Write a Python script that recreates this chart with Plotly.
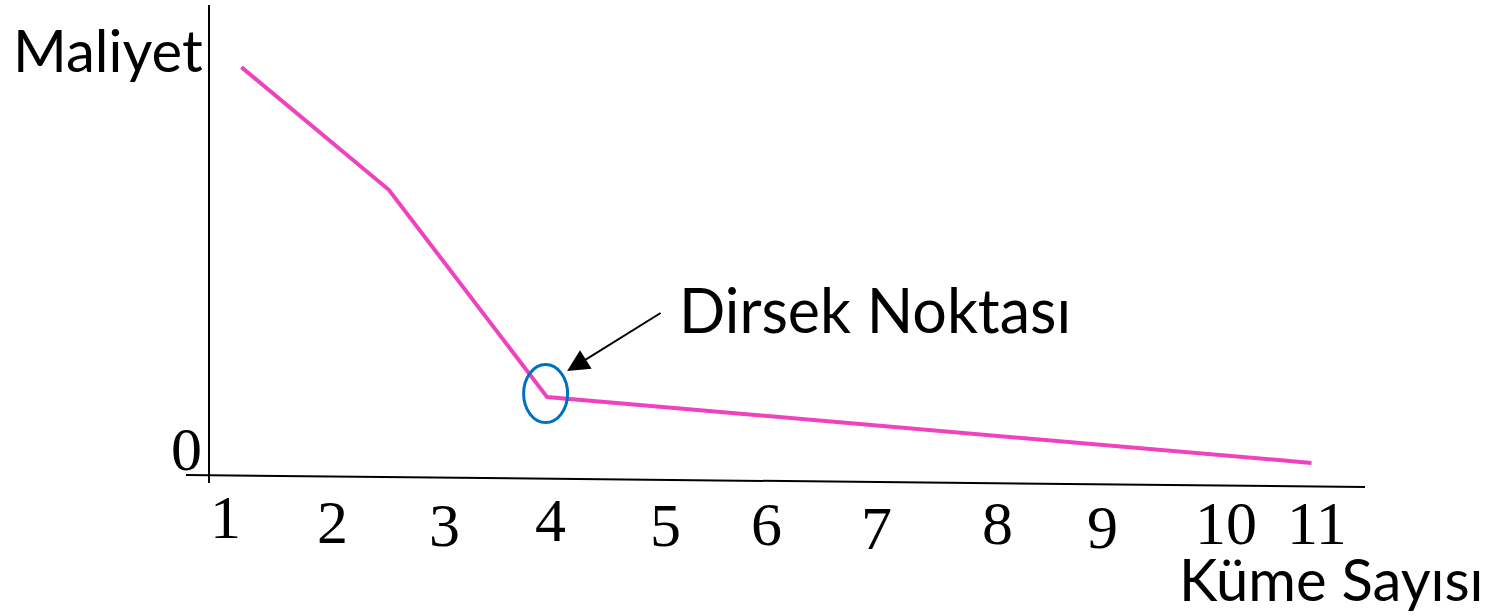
import plotly.graph_objects as go

# elbow chart data: cost vs number of clusters
cluster_labels = ["1", "2", "3", "4", "5", "6", "7", "8", "9", "10", "11"]
cluster_ticks = [1, 2, 3, 4, 5, 6, 7, 8, 9, 10, 11]
curve_k = [1.15, 2.5, 3.95, 10.95]
curve_cost = [100, 70, 19.3, 3.2]
elbow_index = 2

# hand-drawn look: small per-label nudges (px)
label_dx = [0, -2, 1, -2, 4, -4, -4, 8, 4, 18, 0]
label_dy = [41, 46, 49, 44, 49, 48, 52, 47, 51, 47, 47]

W, H = 1485, 616
L, R, T, B = 209, 120, 5, 140
PW, PH = W - L - R, H - T - B


def px(x, y):
    """pixel position -> paper coords"""
    return (x - L) / PW, (H - B - y) / PH


serif = "Liberation Serif"
sans = "Lato"

fig = go.Figure(go.Scatter(
    x=curve_k,
    y=curve_cost,
    mode="lines",
    line=dict(color="#EF42BE", width=4),
    hoverinfo="x+y",
))

ax_x0, ax_y0 = px(186, 475)
ax_x1, ax_y1 = px(1365, 487)
yl_x, yl_y0 = px(209, 483)
_, yl_y1 = px(209, 5)

shapes = [
    dict(type="line", xref="paper", yref="paper", x0=ax_x0, y0=ax_y0, x1=ax_x1, y1=ax_y1,
         line=dict(color="black", width=2)),
    dict(type="line", xref="paper", yref="paper", x0=yl_x, y0=yl_y0, x1=yl_x, y1=yl_y1,
         line=dict(color="black", width=2)),
    # ring around the elbow
    dict(type="circle", xref="x", yref="y", xsizemode="pixel", ysizemode="pixel",
         xanchor=curve_k[elbow_index], yanchor=curve_cost[elbow_index],
         x0=-23.5, x1=20.5, y0=-25.5, y1=32.5,
         line=dict(color="#0070C0", width=3)),
]

annotations = []
for lab, k, dx, dy in zip(cluster_labels, cluster_ticks, label_dx, label_dy):
    annotations.append(dict(
        x=k, y=0, xref="x", yref="y", text=lab, showarrow=False,
        xshift=dx, yshift=-dy, xanchor="center", yanchor="middle",
        height=52, valign="middle",
        font=dict(family=serif, size=62, color="black"),
    ))

zx, zy = px(186, 449)
annotations.append(dict(x=zx, y=zy, xref="paper", yref="paper", text="0", showarrow=False,
                        xanchor="center", yanchor="middle",
                        font=dict(family=serif, size=62, color="black")))

mx, my = px(11, 50)
annotations.append(dict(x=mx, y=my, xref="paper", yref="paper", text="Maliyet", showarrow=False,
                        xanchor="left", yanchor="middle",
                        font=dict(family=sans, size=58, color="black")))

kx, ky = px(1177, 578)
annotations.append(dict(x=kx, y=ky, xref="paper", yref="paper", text="Küme Sayısı", showarrow=False,
                        xanchor="left", yanchor="middle",
                        font=dict(family=sans, size=58, color="black")))

dxp, dyp = px(677, 309)
annotations.append(dict(x=dxp, y=dyp, xref="paper", yref="paper", text="Dirsek Noktası", showarrow=False,
                        xanchor="left", yanchor="middle",
                        font=dict(family=sans, size=61, color="black")))

# arrow pointing at the elbow
annotations.append(dict(
    x=curve_k[elbow_index], y=curve_cost[elbow_index], xref="x", yref="y",
    xshift=20, yshift=26, ax=95, ay=-59, text="", showarrow=True,
    arrowhead=2, arrowsize=2.2, arrowwidth=2, arrowcolor="black",
))

fig.update_layout(
    width=W, height=H,
    margin=dict(l=L, r=R, t=T, b=B, pad=0),
    paper_bgcolor="white",
    plot_bgcolor="white",
    showlegend=False,
    xaxis=dict(range=[0.8535, 11.44], visible=False),
    yaxis=dict(range=[0, 115.2], visible=False),
    shapes=shapes,
    annotations=annotations,
)

# drop the default page margin so the figure sits at the window corner
fig.write_html("out.html", config={"displayModeBar": False},
               post_script="document.body.style.margin='0';")
